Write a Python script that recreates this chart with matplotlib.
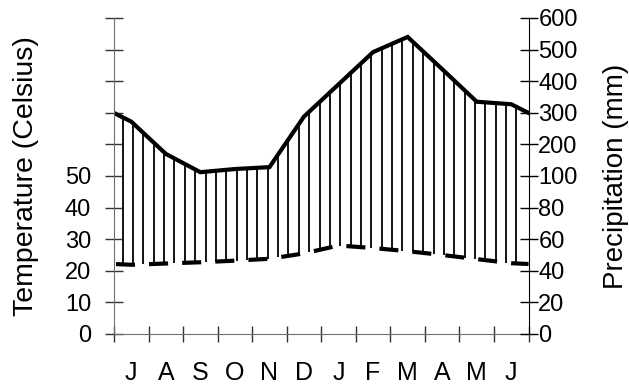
import numpy as np
import matplotlib as mpl
mpl.use('Agg')
import matplotlib.pyplot as plt

months = ['J', 'A', 'S', 'O', 'N', 'D', 'J', 'F', 'M', 'A', 'M', 'J']
temp = [21.9, 22.3, 22.7, 23.2, 23.8, 25.5, 28.0, 27.2, 26.2, 25.0, 23.7, 22.4]
precip = [272, 170, 112, 122, 128, 288, 390, 492, 540, 438, 335, 327]
temp_ticks = [0, 10, 20, 30, 40, 50]
precip_ticks = [0, 20, 40, 60, 80, 100, 200, 300, 400, 500, 600]

mpl.rcParams['font.family'] = ['Liberation Sans', 'DejaVu Sans']
mpl.rcParams['lines.scale_dashes'] = False


def precip_scale(p):
    # 20 mm = 10 C up to 100 mm, above that 100 mm per 10 C step
    p = np.asarray(p, dtype=float)
    return np.where(p <= 100, p / 2.0, 50 + (p - 100) / 10.0)


# months drawn at their centres, the year edges get the June/July mean
x = np.concatenate([[0], np.arange(len(months)) + 0.5, [len(months)]])
t = np.array(temp, dtype=float)
t = np.concatenate([[(t[0] + t[-1]) / 2], t, [(t[0] + t[-1]) / 2]])
p = precip_scale(precip)
p = np.concatenate([[(p[0] + p[-1]) / 2], p, [(p[0] + p[-1]) / 2]])

fig = plt.figure(figsize=(6.29, 3.85), dpi=100)
ax = fig.add_axes([0.1812, 0.1325, 0.6591, 0.8208])
ax.set_xlim(0, 12)
ax.set_ylim(0, 100)

# humid period hatching
hx = np.linspace(0.25, 11.65, 39)
ax.vlines(hx, np.interp(hx, x, t), np.interp(hx, x, p), color='black', lw=1.3)
ax.plot(x, p, color='black', lw=3, solid_joinstyle='miter')
ax.plot(x, t, color='black', lw=3, linestyle=(22.4, (13.7, 10.15)),
        dash_capstyle='butt')

yt = np.arange(0, 101, 10)
ax.set_yticks(yt)
ax.set_yticklabels([str(v) if v in temp_ticks else '' for v in yt])
ax.set_xticks(np.arange(0, 13))
ax.set_xticklabels([])
ax.set_xticks(np.arange(12) + 0.5, minor=True)
ax.set_xticklabels(months, minor=True)

ax.tick_params(axis='y', direction='inout', length=13, width=1, color='#333333',
               labelsize=17, pad=10)
ax.tick_params(axis='x', which='major', direction='inout', length=11.5, width=1,
               color='#333333')
ax.tick_params(axis='x', which='minor', length=0, labelsize=18, pad=19.5)
ax.spines['top'].set_visible(False)
ax.spines['right'].set_visible(False)
ax.spines['left'].set_color('#707070')
ax.spines['bottom'].set_color('#707070')

ax2 = ax.twinx()
ax2.set_ylim(0, 100)
ax2.set_yticks(precip_scale(precip_ticks))
ax2.set_yticklabels([str(v) for v in precip_ticks])
ax2.tick_params(axis='y', direction='inout', length=13, width=1, labelsize=17, pad=0.5)
for s in ['top', 'left', 'bottom']:
    ax2.spines[s].set_visible(False)

fig.text(26 / 629, 1 - 176 / 385, 'Temperature (Celsius)', rotation=90,
         ha='center', va='center', fontsize=20.5)
fig.text(616 / 629, 1 - 176 / 385, 'Precipitation (mm)', rotation=90,
         ha='center', va='center', fontsize=20)

fig.savefig('out.png', dpi=100)
